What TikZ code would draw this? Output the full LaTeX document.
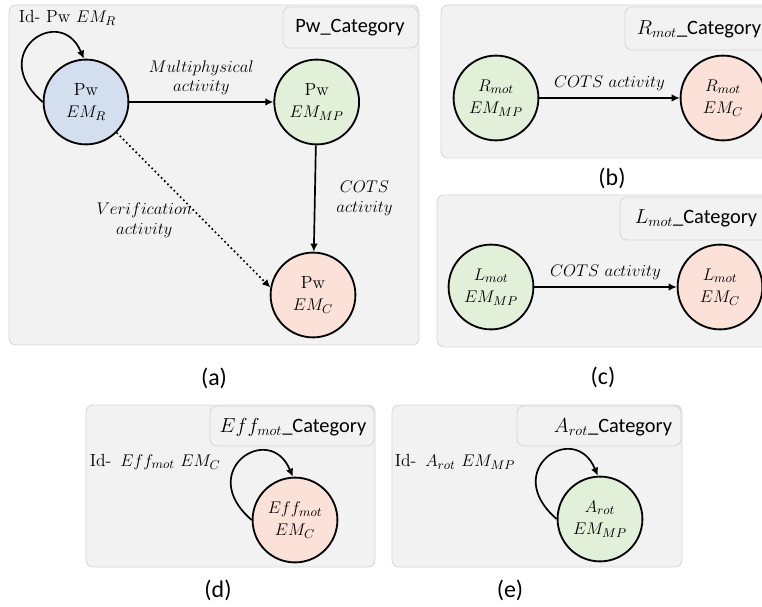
\documentclass[tikz,border=0pt]{standalone}
\usepackage{fontspec}
\newfontfamily\calibri{Carlito}
\usetikzlibrary{positioning,arrows.meta}
\definecolor{panelgray}{HTML}{F2F2F2}
\definecolor{panelline}{HTML}{D6D6D6}
\definecolor{emblue}{HTML}{D3DEEF}
\definecolor{emgreen}{HTML}{E2F0D9}
\definecolor{empink}{HTML}{FBE1D7}

\begin{document}
\begin{tikzpicture}[
  x=0.025cm, y=0.025cm,
  >={Latex[length=2mm,width=1.9mm]},
  panel/.style={draw=panelline, fill=panelgray, rounded corners=5pt, line width=0.6pt},
  tab/.style={panel},
  em/.style={circle, draw, line width=1.3pt, minimum size=2.12cm, inner sep=0pt,
             align=center, font=\fontsize{12.5}{15.5}\selectfont},
  rep/.style={em, fill=emblue},
  mp/.style={em, fill=emgreen},
  cots/.style={em, fill=empink},
  act/.style={font=\fontsize{11.5}{14}\selectfont, align=center},
  cat/.style={font=\calibri\fontsize{14.5}{17}\selectfont},
  idl/.style={anchor=west, font=\fontsize{12.5}{14}\selectfont},
  sub/.style={font=\calibri\fontsize{17}{20}\selectfont},
  trans/.style={->, line width=1.2pt}]
  \useasboundingbox (0,0) rectangle (762,606);
  \clip (0,0) rectangle (762,606);
  % panel (a) -- Pw category
  \draw[panel] (9,601) rectangle (419,261);
  \draw[tab] (283,599) rectangle (418,558);
  \node[cat] (cata) at (350,578) {Pw\_Category};
  \node[rep] (pwr) at (86,504) {Pw\\ $EM_R$};
  \node[mp, right=3.6cm of pwr] (pwmp) {Pw\\ $EM_{MP}$};
  \node[cots] (pwc) at (313,311) {Pw\\ $EM_C$};
  \node[idl] (idpw) at (14,588) {Id- Pw $EM_R$};
  \draw[trans] (pwr) -- (pwmp)
    node[act, midway, above=1pt] (lmulti) {$Multiphysical$\\ $activity$};
  \draw[trans] (pwmp) -- (pwc)
    node[act, midway, right=0.4cm] (lcotsa) {$COTS$\\ $activity$};
  \draw[->, line width=1.2pt, dotted] (pwr.-45) -- (pwc.170)
    node[act, midway, left=-1mm, yshift=-2.5mm] (lverif) {$Verification$\\ $activity$};
  \node[sub] (suba) at (214,228) {(a)};
  % panel (b) -- R_mot category
  \draw[panel] (441,601) rectangle (790,448);
  \draw[tab] (625,599) rectangle (790,556);
  \node[cat] (catb) at (699,577) {$R_{mot}$\_Category};
  \node[mp] (rmp) at (496,508) {$R_{mot}$\\ $EM_{MP}$};
  \node[cots] (rc) at (723,508) {$R_{mot}$\\ $EM_C$};
  \draw[trans] (rmp) -- (rc) node[act, midway, above=1pt] (lcotsb) {$COTS\ activity$};
  \node[sub] (subb) at (612,428) {(b)};
  % panel (c) -- L_mot category
  \draw[panel] (437,411) rectangle (790,259);
  \draw[tab] (620,409) rectangle (790,366);
  \node[cat] (catc) at (696,388) {$L_{mot}$\_Category};
  \node[mp] (lmp) at (491,319) {$L_{mot}$\\ $EM_{MP}$};
  \node[cots] (lc) at (720,319) {$L_{mot}$\\ $EM_C$};
  \draw[trans] (lmp) -- (lc) node[act, midway, above=1pt] (lcotsc) {$COTS\ activity$};
  \node[sub] (subc) at (603,229) {(c)};
  % panel (d) -- Eff_mot category
  \draw[panel] (86,201) rectangle (375,39);
  \draw[tab] (210,200) rectangle (374,160);
  \node[cat] (catd) at (293,179) {$Eff_{mot}$\_Category};
  \node[cots] (effc) at (295,86) {$Eff_{mot}$\\ $EM_C$};
  \node[idl] (ideff) at (85,144) {Id-\enspace $Eff_{mot}\ EM_C$};
  \node[sub] (subd) at (218,16) {(d)};
  % panel (e) -- A_rot category
  \draw[panel] (392,201) rectangle (682,39);
  \draw[tab] (517,200) rectangle (681,160);
  \node[cat] (cate) at (613,179) {$A_{rot}$\_Category};
  \node[mp] (arotc) at (600,87) {$A_{rot}$\\ $EM_{MP}$};
  \node[idl] (idarot) at (390,144) {Id-\enspace $A_{rot}\ EM_{MP}$};
  \node[sub] (sube) at (510,16) {(e)};
  % identity loops
  \foreach \n in {pwr, effc, arotc}
    \draw[trans] (\n.180) .. controls +(-57,49) and +(-23,56) .. (\n.93);
\end{tikzpicture}
\end{document}
